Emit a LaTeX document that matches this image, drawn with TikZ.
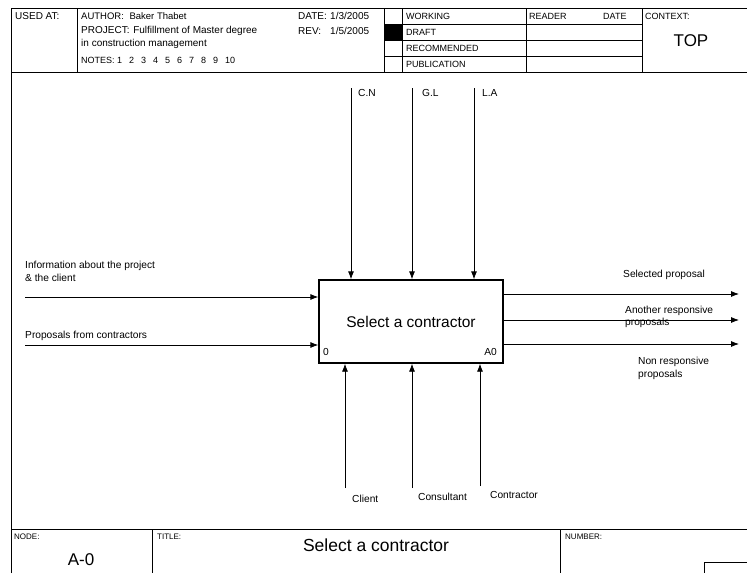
\documentclass[tikz,border=0pt]{standalone}
\usepackage{fontspec}
\setmainfont{Liberation Sans}
\usetikzlibrary{arrows.meta}
\newcommand\ngap{\hspace{7pt}}
\begin{document}
\begin{tikzpicture}[x=1pt,y=-1pt,
  rule/.style={line width=0.8pt},
  lbl/.style={inner sep=0pt, anchor=west, font=\fontsize{10.2}{12.5}\selectfont, align=left},
  hdr/.style={inner sep=0pt, anchor=west, font=\fontsize{10}{11}\selectfont},
  caps/.style={inner sep=0pt, anchor=west, font=\fontsize{9}{10}\selectfont},
  tiny/.style={inner sep=0pt, anchor=west, font=\fontsize{8}{9}\selectfont},
  big/.style={inner sep=0pt, font=\fontsize{17}{19}\selectfont},
  flow/.style={line width=0.8pt, -{Latex[length=8pt,width=6pt]}},
  activity/.style={draw, line width=1.3pt, minimum width=184pt, minimum height=83pt,
    inner sep=0pt, font=\fontsize{15.5}{18}\selectfont}
]
\useasboundingbox (0,0) rectangle (747,573);

% sheet frame
\draw[rule] (11,573) -- (11,8) -- (747,8);
\draw[rule] (11,72) -- (747,72);
\draw[rule] (11,529) -- (747,529);

% header grid
\foreach \x in {77,384,402,526,642} \draw[rule] (\x,8) -- (\x,72);
\foreach \y in {24,40,56} \draw[rule] (384,\y) -- (642,\y);
\fill (384,24) rectangle (402,40);

% header texts
\node[hdr] (usedat) at (15,16) {USED AT:};
\node[hdr, font=\fontsize{9.5}{11}\selectfont] (author) at (81,16) {AUTHOR:\hspace{3pt} Baker Thabet};
\node[hdr] (project) at (81,31) {PROJECT:\hspace{1pt} Fulfillment of Master degree};
\node[hdr] (project2) at (81,44) {in construction management};
\node[caps] (notes) at (81,60) {NOTES: 1\ngap2\ngap3\ngap4\ngap5\ngap6\ngap7\ngap8\ngap9\ngap10};
\node[hdr] (date) at (298,16) {DATE:};
\node[hdr] (dateval) at (330,16) {1/3/2005};
\node[hdr] (rev) at (298,31) {REV:};
\node[hdr] (revval) at (330,31) {1/5/2005};
\node[caps] (working) at (406,16) {WORKING};
\node[caps] (draft) at (406,32) {DRAFT};
\node[caps] (recommended) at (406,48) {RECOMMENDED};
\node[caps] (publication) at (406,64) {PUBLICATION};
\node[caps] (reader) at (529,16) {READER};
\node[caps] (readerdate) at (603,16) {DATE};
\node[caps] (context) at (645,16) {CONTEXT:};
\node[big] (top) at (691,41) {TOP};

% footer
\draw[rule] (152,529) -- (152,573);
\draw[rule] (560,529) -- (560,573);
\draw[rule] (747,562) -- (704,562) -- (704,573);
\node[tiny] (nodelbl) at (14,537) {NODE:};
\node[big] (nodeval) at (81,560) {A-0};
\node[tiny] (titlelbl) at (157,537) {TITLE:};
\node[big, font=\fontsize{17.5}{19}\selectfont] (titleval) at (376,545) {Select a contractor};
\node[tiny] (numberlbl) at (565,537) {NUMBER:};

% activity box
\node[activity] (box) at (411,321.5) {Select a contractor};
\node[lbl] (boxnum) at (323,352) {0};
\node[lbl, anchor=east] (boxid) at (497,352) {A0};

% inputs
\coordinate (in1) at (25,297);
\coordinate (in2) at (25,345);
\draw[flow] (in1) -- (box.west |- in1);
\draw[flow] (in2) -- (box.west |- in2);
\node[lbl] (in1lbl) at (25,271.5) {Information about the project\\\& the client};
\node[lbl] (in2lbl) at (25,336) {Proposals from contractors};

% controls
\coordinate (c1) at (351,88);
\coordinate (c2) at (412,88);
\coordinate (c3) at (474,88);
\foreach \c in {c1,c2,c3} \draw[flow] (\c) -- (box.north -| \c);
\node[lbl] (c1lbl) at (358,93) {C.N};
\node[lbl] (c2lbl) at (422,93) {G.L};
\node[lbl] (c3lbl) at (482,93) {L.A};

% mechanisms
\coordinate (m1) at (345,488);
\coordinate (m2) at (412,488);
\coordinate (m3) at (480,486);
\foreach \m in {m1,m2,m3} \draw[flow] (\m) -- (box.south -| \m);
\node[lbl] (m1lbl) at (352,499) {Client};
\node[lbl] (m2lbl) at (418,497) {Consultant};
\node[lbl] (m3lbl) at (490,495) {Contractor};

% outputs
\coordinate (o1) at (739,294);
\coordinate (o2) at (739,320);
\coordinate (o3) at (739,344);
\foreach \o in {o1,o2,o3} \draw[flow] (box.east |- \o) -- (\o);
\node[lbl] (o1lbl) at (623,275) {Selected proposal};
\node[lbl] (o2lbl) at (625,317) {Another responsive\\proposals};
\node[lbl] (o3lbl) at (638,368.5) {Non responsive\\proposals};
\end{tikzpicture}
\end{document}
